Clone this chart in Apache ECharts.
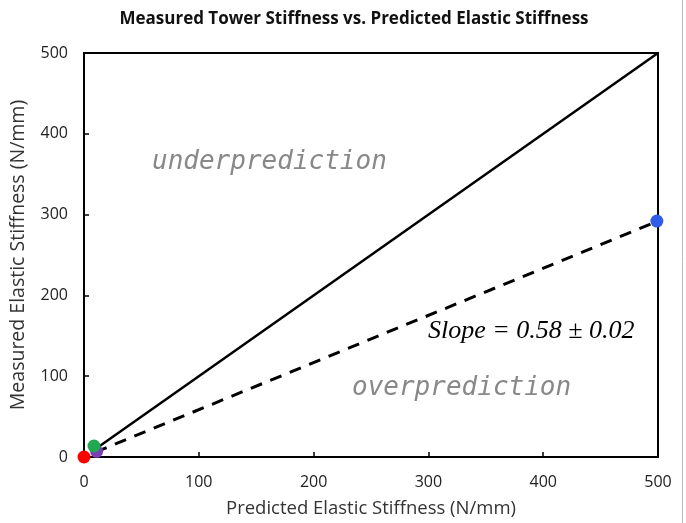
<!DOCTYPE html>
<html>
<head>
<meta charset="utf-8">
<script src="https://cdn.jsdelivr.net/npm/echarts@6/dist/echarts.min.js"></script>
<style>
html,body{margin:0;padding:0;background:#fff;}
#main{width:686px;height:523px;}
</style>
</head>
<body>
<div id="main"></div>
<script>
// measured points (predicted, measured)
var pointsRed = [[0, 0]];
var pointsGreen = [[8.7, 13.6]];
var pointsPurple = [[11, 7]];
var pointsBlue = [[499, 292]];
// reference lines
var oneToOne = [[10, 10], [500, 500]];
var fitLine = [[10, 6], [500, 292]];

var chart = echarts.init(document.getElementById('main'));

function dot(name, data, color) {
	return {
		name: name,
		type: 'scatter',
		data: data,
		symbolSize: 13,
		itemStyle: { color: color, opacity: 1 },
		z: 5
	};
}

var option = {
	animation: false,
	backgroundColor: '#fff',
	title: {
		text: 'Measured Tower Stiffness vs. Predicted Elastic Stiffness',
		left: 349,
		top: 6,
		textAlign: 'center',
		textStyle: { fontFamily: 'Open Sans', fontSize: 17, fontWeight: 'bold', color: '#111' }
	},
	grid: { left: 83, right: 28, top: 53, bottom: 66, show: true, borderColor: '#000', borderWidth: 2 },
	xAxis: {
		type: 'value', min: 0, max: 500, interval: 100,
		name: 'Predicted Elastic Stiffness (N/mm)',
		nameLocation: 'middle', nameGap: 42,
		nameTextStyle: { fontFamily: 'Open Sans', fontSize: 18.5, color: '#333' },
		axisLine: { lineStyle: { color: '#000', width: 2 } },
		axisTick: { inside: true, length: 5, lineStyle: { color: '#000', width: 1.5 } },
		axisLabel: { fontFamily: 'Open Sans', fontSize: 16, color: '#222', margin: 17 },
		splitLine: { show: false }
	},
	yAxis: {
		type: 'value', min: 0, max: 500, interval: 100,
		name: 'Measured Elastic Stiffness (N/mm)',
		nameLocation: 'middle', nameGap: 56,
		nameTextStyle: { fontFamily: 'Open Sans', fontSize: 19.5, color: '#333' },
		axisLine: { lineStyle: { color: '#000', width: 2 } },
		axisTick: { inside: true, length: 5, lineStyle: { color: '#000', width: 1.5 } },
		axisLabel: { fontFamily: 'Open Sans', fontSize: 16, color: '#222', margin: 16 },
		splitLine: { show: false }
	},
	series: [
		{
			name: '1:1', type: 'line', data: oneToOne, symbol: 'none',
			lineStyle: { color: '#000', width: 2.5 }, z: 3
		},
		{
			name: 'fit', type: 'line', data: fitLine, symbol: 'none',
			lineStyle: { color: '#000', width: 3, type: [12, 9] }, z: 3
		},
		dot('purple', pointsPurple, '#7b3fb5'),
		dot('green', pointsGreen, '#1fa84f'),
		dot('red', pointsRed, '#ff0000'),
		dot('blue', pointsBlue, '#2f5de8')
	],
	graphic: [
		{
			type: 'text', left: 152, top: 149,
			style: { text: 'underprediction', font: 'italic 26px "DejaVu Sans Mono"', fill: '#888' }
		},
		{
			type: 'text', left: 352, top: 375,
			style: { text: 'overprediction', font: 'italic 26px "DejaVu Sans Mono"', fill: '#888' }
		},
		{
			type: 'text', left: 428, top: 318,
			style: { text: 'Slope = 0.58 \u00b1 0.02', font: 'italic 26px "Liberation Serif"', fill: '#000' }
		},
		{
			type: 'line', shape: { x1: 682.5, y1: 0, x2: 682.5, y2: 523 },
			style: { stroke: '#bbb', lineWidth: 1 }
		}
	]
};
chart.setOption(option);
</script>
</body>
</html>
